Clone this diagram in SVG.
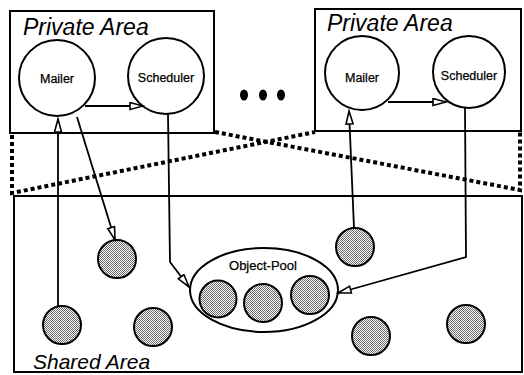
<svg xmlns="http://www.w3.org/2000/svg" width="524" height="375" viewBox="0 0 524 375">
<style>
.box{fill:none;stroke:#000;stroke-width:2}
.node{fill:#fff;stroke:#000;stroke-width:2}
.shade{fill:url(#stip);stroke:#000;stroke-width:2}
.dot{fill:none;stroke:#000;stroke-width:4;stroke-dasharray:4 3}
.ln{fill:none;stroke:#000;stroke-width:1.8;marker-end:url(#tri)}
.area{font-family:"Liberation Sans",Arial,sans-serif;font-style:italic;font-size:23px}
.lbl{font-family:"Liberation Sans",Arial,sans-serif;font-size:12.5px;text-anchor:middle;stroke:#000;stroke-width:0.25}
</style>
<defs>
<pattern id="stip" width="2" height="2" patternUnits="userSpaceOnUse">
<rect width="2" height="2" fill="#fff"/>
<rect width="1" height="1" fill="#6a6a6a"/>
<rect x="1" y="1" width="1" height="1" fill="#6a6a6a"/>
</pattern>
<marker id="tri" markerUnits="userSpaceOnUse" markerWidth="16" markerHeight="10" refX="14" refY="4.5" orient="auto">
<path d="M1,1 L14,4.5 L1,8 z" fill="#fff" stroke="#000" stroke-width="1.6"/>
</marker>
</defs>

<g id="private-left">
<rect class="box" x="10" y="11" width="204" height="122"/>
<text class="area" x="23" y="35">Private Area</text>
</g>
<g id="private-right">
<rect class="box" x="315" y="9" width="206" height="122"/>
<text class="area" x="327" y="31">Private Area</text>
</g>
<g id="shared-area">
<rect class="box" x="14" y="196" width="508" height="176"/>
<text class="area" x="33" y="369" style="font-size:21px">Shared Area</text>
</g>
<g id="ellipsis">
<ellipse cx="244" cy="95" rx="4" ry="5.5"/>
<ellipse cx="263" cy="95" rx="4" ry="5.5"/>
<ellipse cx="281" cy="95" rx="4" ry="5.5"/>
</g>

<g id="dotted">
<path class="dot" d="M12,135 L12,193 L315,132"/>
<path class="dot" d="M215,132 L520,190 L520,131"/>
</g>

<g id="mailer-left"><circle class="node" cx="57" cy="78" r="38"/><text class="lbl" x="57" y="83">Mailer</text></g>
<g id="scheduler-left"><circle class="node" cx="166" cy="76" r="38"/><text class="lbl" x="166" y="82">Scheduler</text></g>
<g id="mailer-right"><circle class="node" cx="362" cy="73" r="37"/><text class="lbl" x="362" y="82">Mailer</text></g>
<g id="scheduler-right"><circle class="node" cx="469" cy="72" r="36"/><text class="lbl" x="469" y="80">Scheduler</text></g>

<g id="object-pool">
<ellipse class="node" cx="264" cy="290" rx="74" ry="42"/>
<text class="lbl" x="263" y="270" style="font-size:13px">Object-Pool</text>
<circle class="shade" cx="218" cy="299" r="18.5"/>
<circle class="shade" cx="263" cy="303" r="19"/>
<circle class="shade" cx="310" cy="295" r="19"/>
</g>
<g id="obj1"><circle class="shade" cx="117" cy="259" r="19"/></g>
<g id="obj2"><circle class="shade" cx="62" cy="325" r="19"/></g>
<g id="obj3"><circle class="shade" cx="153" cy="327" r="19"/></g>
<g id="obj4"><circle class="shade" cx="355" cy="247" r="19"/></g>
<g id="obj5"><circle class="shade" cx="371" cy="336" r="19"/></g>
<g id="obj6"><circle class="shade" cx="466" cy="324" r="19"/></g>

<g id="connectors">
<path class="ln" d="M85,106 L143,106"/>
<path class="ln" d="M388,102 L446,102"/>
<path class="ln" d="M58,306 L58,119"/>
<path class="ln" d="M77,117 L115,240"/>
<path class="ln" d="M168,114 L170,262 L189,287"/>
<path class="ln" d="M465,108 L466,257 L338,293"/>
<path class="ln" d="M354,228 L349,111"/>
</g>
</svg>
